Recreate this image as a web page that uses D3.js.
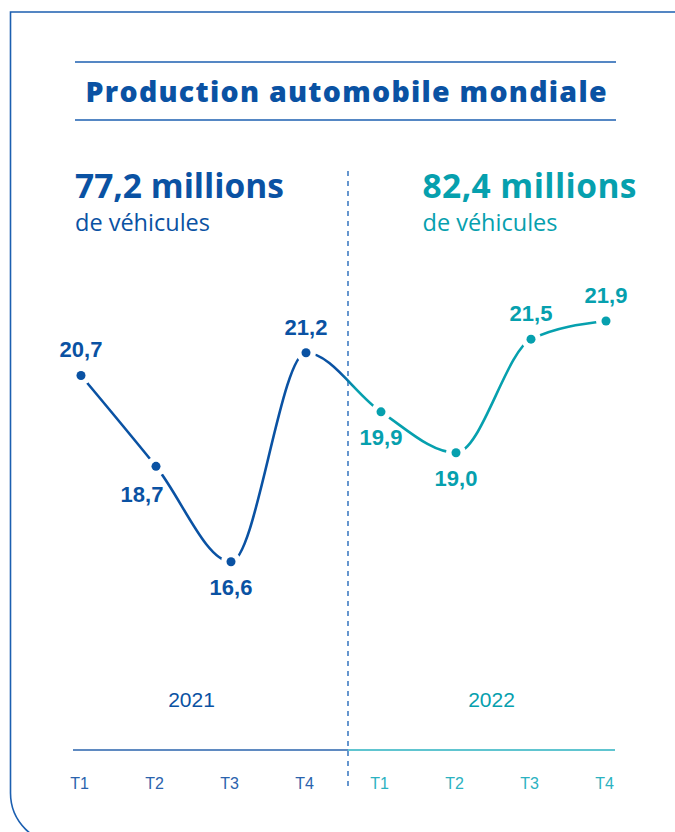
<!DOCTYPE html>
<html>
<head>
<meta charset="utf-8">
<script src="https://cdn.jsdelivr.net/npm/d3@7"></script>
<style>
  html, body { margin: 0; padding: 0; background: #fff; }
  svg { display: block; }
</style>
</head>
<body>
<div id="chart"></div>
<script>
// Production automobile mondiale, 2021-2022

var years = ["2021", "2022"];
var quarters = ["T1", "T2", "T3", "T4"];
var values2021 = [20.7, 18.7, 16.6, 21.2];
var values2022 = [19.9, 19.0, 21.5, 21.9];
var totals = ["77,2 millions", "82,4 millions"];
var subtitle = "de véhicules";
var title = "Production automobile mondiale";

// label placement around each dot (layout only)
var labelSide = ["top", "bottomleft", "bottom", "top", "bottom", "bottom", "top", "top"];

var width = 675,
    height = 832;

var blue = "#0a52a3",
    teal = "#06a0ae",
    frameBlue = "#1c5fb0",
    axisBlue = "#2a63ad",
    axisTeal = "#2bb2c1";

var svg = d3.select("#chart")
    .append("svg")
    .attr("width", width)
    .attr("height", height);

// flat list of points
var data = [];
years.forEach(function(y, yi) {
    var vals = yi === 0 ? values2021 : values2022;
    quarters.forEach(function(q, qi) {
        data.push({ key: y + "-" + q, year: y, quarter: q, value: vals[qi] });
    });
});

var x_scale = d3.scalePoint()
    .domain(data.map(function(d) { return d.key; }))
    .range([81, 606]);

var y_scale = d3.scaleLinear()
    .domain([16.6, 21.9])
    .range([561.7, 321]);

var fmt = d3.formatLocale({ decimal: ",", thousands: " ", grouping: [3], currency: ["", "€"] }).format(".1f");

// divider sits a little nearer the first 2022 quarter
var splitX = x_scale(years[0] + "-T4") + 42;

// frame
svg.append("path")
    .attr("d", "M 680 12 H 10.5 V 793 A 51 51 0 0 0 61.5 844 H 680")
    .attr("fill", "none")
    .attr("stroke", frameBlue)
    .attr("stroke-width", 1.6);

// title
svg.append("line")
    .attr("x1", 75).attr("x2", 616)
    .attr("y1", 62).attr("y2", 62)
    .attr("stroke", frameBlue).attr("stroke-width", 1.4);
svg.append("line")
    .attr("x1", 75).attr("x2", 616)
    .attr("y1", 120).attr("y2", 120)
    .attr("stroke", frameBlue).attr("stroke-width", 1.4);
svg.append("text")
    .attr("x", 346)
    .attr("y", 102)
    .attr("text-anchor", "middle")
    .style("font-family", "'Open Sans', sans-serif")
    .style("font-weight", 800)
    .style("font-size", "28.5px")
    .attr("fill", blue)
    .attr("textLength", 521)
    .attr("lengthAdjust", "spacing")
    .text(title);

// headers
var headerX = [75, 422.5];
years.forEach(function(y, i) {
    var col = i === 0 ? blue : teal;
    svg.append("text")
        .attr("x", headerX[i])
        .attr("y", 198)
        .style("font-family", "'Open Sans', sans-serif")
        .style("font-weight", 700)
        .style("font-size", "33.5px")
        .attr("fill", col)
        .attr("textLength", i === 0 ? 209 : 214)
        .attr("lengthAdjust", "spacing")
        .text(totals[i]);
    svg.append("text")
        .attr("x", headerX[i])
        .attr("y", 231)
        .style("font-family", "'Open Sans', sans-serif")
        .style("font-weight", 400)
        .style("font-size", "23.5px")
        .attr("fill", col)
        .text(subtitle);
});

// divider
svg.append("line")
    .attr("x1", splitX).attr("x2", splitX)
    .attr("y1", 171).attr("y2", 790)
    .attr("stroke", "#3f7cc2")
    .attr("stroke-width", 1.6)
    .attr("stroke-dasharray", "5,5");

// line gradient + gaps round the dots
var defs = svg.append("defs");
var grad = defs.append("linearGradient")
    .attr("id", "lineGrad")
    .attr("gradientUnits", "userSpaceOnUse")
    .attr("x1", splitX - 8).attr("x2", splitX + 8)
    .attr("y1", 0).attr("y2", 0);
grad.append("stop").attr("offset", "0%").attr("stop-color", blue);
grad.append("stop").attr("offset", "100%").attr("stop-color", teal);

var mask = defs.append("mask").attr("id", "gapMask")
    .attr("maskUnits", "userSpaceOnUse")
    .attr("x", 0).attr("y", 0).attr("width", width).attr("height", height);
mask.append("rect").attr("width", width).attr("height", height).attr("fill", "#fff");
mask.selectAll("circle")
    .data(data)
    .enter()
    .append("circle")
    .attr("cx", function(d) { return x_scale(d.key); })
    .attr("cy", function(d) { return y_scale(d.value); })
    .attr("r", 10)
    .attr("fill", "#000");

var line = d3.line()
    .x(function(d) { return x_scale(d.key); })
    .y(function(d) { return y_scale(d.value); })
    .curve(d3.curveMonotoneX);

svg.append("path")
    .datum(data)
    .attr("d", line)
    .attr("fill", "none")
    .attr("stroke", "url(#lineGrad)")
    .attr("stroke-width", 2.6)
    .attr("stroke-linecap", "round")
    .attr("mask", "url(#gapMask)");

// dots
svg.selectAll(".dot")
    .data(data)
    .enter()
    .append("circle")
    .attr("class", "dot")
    .attr("cx", function(d) { return x_scale(d.key); })
    .attr("cy", function(d) { return y_scale(d.value); })
    .attr("r", 4.5)
    .attr("fill", function(d) { return d.year === years[0] ? blue : teal; });

// value labels
var offsets = {
    top: { dx: 0, dy: -18 },
    bottom: { dx: 0, dy: 33 },
    bottomleft: { dx: -14, dy: 36 }
};
svg.selectAll(".val")
    .data(data)
    .enter()
    .append("text")
    .attr("class", "val")
    .attr("x", function(d, i) { return x_scale(d.key) + offsets[labelSide[i]].dx; })
    .attr("y", function(d, i) { return y_scale(d.value) + offsets[labelSide[i]].dy; })
    .attr("text-anchor", "middle")
    .style("font-family", "'Liberation Sans', Arial, sans-serif")
    .style("font-weight", 700)
    .style("font-size", "22px")
    .attr("fill", function(d) { return d.year === years[0] ? blue : teal; })
    .text(function(d) { return fmt(d.value); });

// year labels
years.forEach(function(y, i) {
    var x0 = x_scale(y + "-T1"),
        x1 = x_scale(y + "-T4");
    svg.append("text")
        .attr("x", (x0 + x1) / 2 - 2)
        .attr("y", 707)
        .attr("text-anchor", "middle")
        .style("font-family", "'Liberation Sans', Arial, sans-serif")
        .style("font-size", "21px")
        .attr("fill", i === 0 ? blue : teal)
        .text(y);
});

// bottom axis
var axisY = 750;
svg.append("line")
    .attr("x1", 73).attr("x2", splitX)
    .attr("y1", axisY).attr("y2", axisY)
    .attr("stroke", axisBlue).attr("stroke-width", 1.6);
svg.append("line")
    .attr("x1", splitX).attr("x2", 615)
    .attr("y1", axisY).attr("y2", axisY)
    .attr("stroke", axisTeal).attr("stroke-width", 1.6);

var x_axis = d3.axisBottom(x_scale)
    .tickSize(0)
    .tickPadding(0)
    .tickFormat(function(k) { return k.split("-")[1]; });

var axisG = svg.append("g")
    .attr("transform", "translate(-2," + 776 + ")")
    .call(x_axis);
axisG.select(".domain").remove();
axisG.selectAll("text")
    .attr("dy", "0.8em")
    .style("font-family", "'Liberation Sans', Arial, sans-serif")
    .style("font-size", "16px")
    .attr("fill", function(k) { return k.indexOf(years[0]) === 0 ? axisBlue : axisTeal; });
</script>
</body>
</html>
